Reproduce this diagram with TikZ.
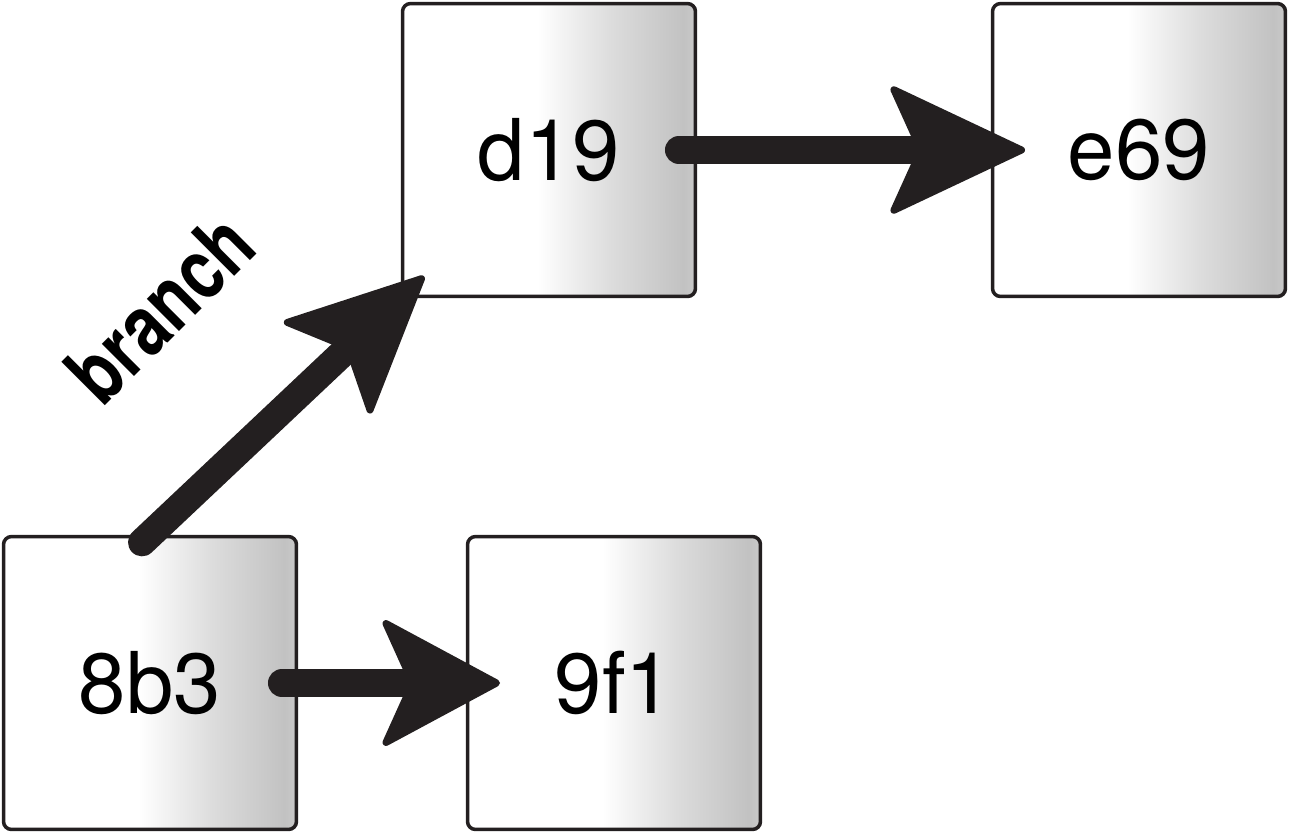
\documentclass[tikz,border=0pt]{standalone}
\usepackage{fontspec}
\setmainfont{TeX Gyre Heros}
\usepackage{xcolor}
\usetikzlibrary{arrows.meta}
\definecolor{inkblack}{HTML}{231F20}
\pgfdeclarehorizontalshading{commitshade}{100bp}{color(0bp)=(white); color(48bp)=(white); color(61bp)=(gray!28); color(73bp)=(gray!48); color(75bp)=(gray!42); color(100bp)=(gray!42)}

\tikzset{
    commit/.style={draw=inkblack, line width=2pt, rounded corners=0.16cm, shading=commitshade,
        minimum size=5.86cm, inner sep=0pt, font=\fontsize{48.5}{48.5}\selectfont},
    pointer/.style={draw=inkblack, line width=0.56cm, line cap=round,
        -{Stealth[length=#1, width=2.68cm, inset=0.6cm, round, line width=4pt]}},
    pointer/.default=2.85cm
}

\begin{document}
\begin{tikzpicture}[x=0.02cm, y=-0.02cm]
    \useasboundingbox (0, 0) rectangle (1289, 833);
    \node[commit] (c8b3) at (150, 683) {8b3};
    \node[commit] (c9f1) at (614, 683) {9f1};
    \node[commit] (cd19) at (549, 150) {d19};
    \node[commit] (ce69) at (1139, 150) {e69};
    \draw[pointer=2.5cm, shorten <=2.64cm, shorten >=2.28cm] (c8b3.center) -- (c9f1.center);
    \draw[pointer, shorten <=2.6cm, shorten >=2.28cm] (cd19.center) -- (ce69.center);
    \draw[pointer, shorten <=-0.22cm, shorten >=-0.64cm] (c8b3.north) -- (cd19.south west);
    \node[rotate=45, inner sep=0pt, font=\bfseries\fontsize{48}{48}\selectfont] (branchlabel) at (160, 308) {\scalebox{0.79}[1]{branch}};
\end{tikzpicture}
\end{document}
